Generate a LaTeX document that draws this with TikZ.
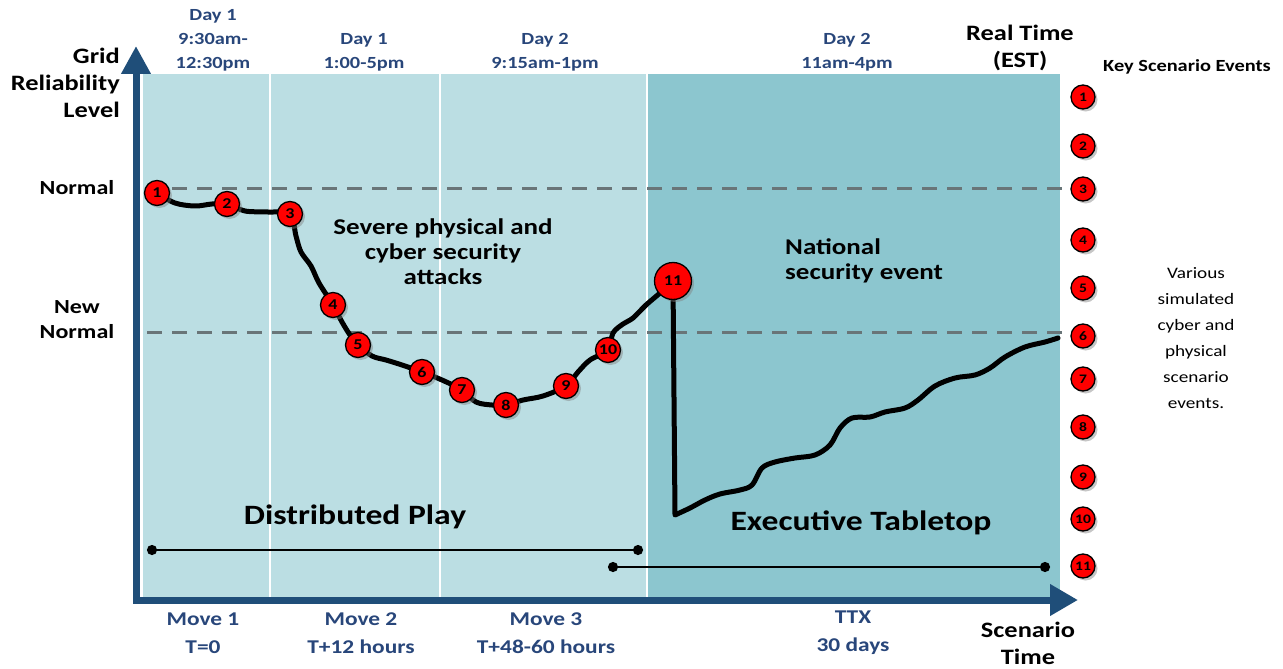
\documentclass[tikz,border=0pt]{standalone}
\usepackage{fontspec}
\setmainfont{Carlito}[FakeStretch=1.2]
\usetikzlibrary{arrows.meta,shadows}
\definecolor{lightteal}{RGB}{187,222,227}
\definecolor{darkteal}{RGB}{140,198,207}
\definecolor{axisblue}{RGB}{31,78,121}
\definecolor{labelblue}{RGB}{40,70,122}
\definecolor{dashgray}{RGB}{105,117,120}
\tikzset{>=latex}
\tikzstyle{event}=[circle,draw=black,fill=red,line width=1.3pt,inner sep=0pt,minimum size=25pt,font=\bfseries\fontsize{15}{15}\selectfont,drop shadow={opacity=0.45,shadow xshift=2.5pt,shadow yshift=-2.5pt}]
\tikzstyle{keyevent}=[event,minimum size=24pt,font=\bfseries\fontsize{13}{13}\selectfont]
\tikzstyle{bigevent}=[event,minimum size=37pt,font=\bfseries\fontsize{15}{15}\selectfont]
\tikzstyle{timelabel}=[inner sep=0pt,align=center,text=labelblue,font=\bfseries\fontsize{17}{24}\selectfont]
\tikzstyle{movelabel}=[timelabel,font=\bfseries\fontsize{19.5}{28}\selectfont]
\tikzstyle{title}=[inner sep=0pt,align=center,font=\bfseries\fontsize{22}{27}\selectfont]
\tikzstyle{level}=[inner sep=0pt,align=center,font=\bfseries\fontsize{20}{25}\selectfont]
\tikzstyle{phase}=[inner sep=0pt,font=\bfseries\fontsize{28}{32}\selectfont]
\tikzstyle{note}=[inner sep=0pt,font=\bfseries\fontsize{22.5}{25}\selectfont]
\tikzstyle{curve}=[line width=5pt,line join=round,line cap=round]
\tikzstyle{span}=[line width=2.5pt,{Circle[length=10pt]}-{Circle[length=10pt]}]

\begin{document}
\begin{tikzpicture}[x=1pt,y=-1pt]
    \useasboundingbox (0,0) rectangle (1283,669);

    % play areas
    \fill[lightteal] (143,74) rectangle (647,597);
    \fill[darkteal] (647,74) rectangle (1060,597);
    \foreach \sx in {270,440,647} {
        \draw[white,line width=2pt] (\sx,74) -- (\sx,597);
    };

    % reference levels
    \coordinate (normL) at (147,188);
    \coordinate (normR) at (1070,188);
    \coordinate (newL) at (147,332);
    \coordinate (newR) at (1070,332);
    \draw[dashgray,line width=3pt,dash pattern=on 15pt off 10pt] (normL) -- (normR);
    \draw[dashgray,line width=3pt,dash pattern=on 15pt off 10pt] (newL) -- (newR);

    % axes
    \coordinate (ytip) at (136,46);
    \coordinate (origin) at (136,600);
    \coordinate (xtip) at (1078,600);
    \draw[axisblue,line width=7pt,{Triangle[length=28pt,width=28pt]}-{Triangle[length=28pt,width=30pt]}] (ytip) -- (origin) -- (xtip);

    % reliability curve
    \foreach \i/\px/\py in {1/157/193,2/227/204,3/290/214,4/333/305,5/358/345,6/422/372,7/462/390,8/506/405,9/566/386,10/608/350,11/673/281} {
        \coordinate (c\i) at (\px,\py);
    };
    \coordinate (low) at (675,515);
    \draw[curve] plot[smooth,tension=0.55] coordinates {(c1) (175,203) (195,206) (212,204) (c2) (245,211) (268,212) (c3)
        (296,236) (301,252) (311,266) (319,283) (c4) (342,322) (350,335) (c5) (372,356) (386,360) (402,365) (c6)
        (442,380) (c7) (476,402) (492,405) (c8) (523,400) (543,396) (c9) (578,372) (590,360) (c10) (613,333) (623,324)
        (633,318) (646,305) (660,293) (c11)};
    \draw[curve] (c11) -- plot[smooth,tension=0.55] coordinates {(low) (690,508) (705,500) (720,494) (740,490) (752,485)
        (762,468) (775,462) (795,458) (815,455) (830,445) (840,428) (852,418) (870,417) (885,412) (905,408) (918,400)
        (935,386) (955,378) (975,375) (990,368) (1005,357) (1025,347) (1045,342) (1058,338)};

    \foreach \i in {1,...,10} {
        \node[event] (e\i) at (c\i) {\i};
    };
    \node[bigevent] (e11) at (c11) {11};

    % key scenario events
    \foreach \i/\ky in {1/97,2/146,3/189,4/240,5/288,6/336,7/379,8/427,9/477,10/519,11/566} {
        \node[keyevent] (k\i) at (1083,\ky) {\i};
    };

    % phase spans
    \coordinate (dpstart) at (147,550);
    \coordinate (dpend) at (643,550);
    \coordinate (ttstart) at (608,567);
    \coordinate (ttend) at (1050,567);
    \draw[span] (dpstart) -- (dpend);
    \draw[span] (ttstart) -- (ttend);

    % titles
    \node[title,align=right,anchor=east] (ylabel) at (120,83) {Grid\\Reliability\\Level};
    \node[title] (rt) at (1020,48) {Real Time\\(EST)};
    \node[title] (st) at (1028,643) {Scenario\\Time};
    \node[inner sep=0pt,font=\bfseries\fontsize{17}{18}\selectfont] (kse) at (1187,67) {Key Scenario Events};
    \node[inner sep=0pt,align=center,font=\fontsize{16}{26}\selectfont] (various) at (1196,338) {Various\\simulated\\cyber and\\physical\\scenario\\events.};
    \node[level] (normal) at (77,188) {Normal};
    \node[level] (newnormal) at (77,320) {New\\Normal};

    % real time
    \node[timelabel] (d1) at (213,40) {Day 1\\9:30am-\\12:30pm};
    \node[timelabel] (d2) at (364,52) {Day 1\\1:00-5pm};
    \node[timelabel] (d3) at (545,52) {Day 2\\9:15am-1pm};
    \node[timelabel] (d4) at (847,52) {Day 2\\11am-4pm};

    % scenario time
    \node[movelabel] (m1) at (203,633) {Move 1\\T=0};
    \node[movelabel] (m2) at (361,633) {Move 2\\T+12 hours};
    \node[movelabel] (m3) at (546,633) {Move 3\\T+48-60 hours};
    \node[movelabel] (ttx) at (853,633) {TTX\\30 days};

    % annotations
    \node[note,align=center] (attacks) at (443,252) {Severe physical and\\cyber security\\attacks};
    \node[note,align=left,anchor=west] (national) at (785,261) {National\\security event};
    \node[phase] (dplay) at (355,517) {Distributed Play};
    \node[phase] (ettop) at (861,523) {Executive Tabletop};
\end{tikzpicture}
\end{document}
